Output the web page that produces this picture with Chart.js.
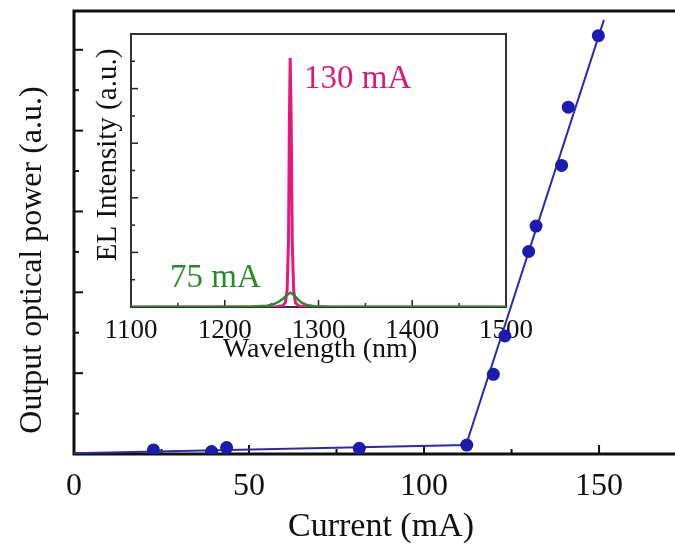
<!DOCTYPE html>
<html>
<head>
<meta charset="utf-8">
<title>L-I curve with EL inset</title>
<script src="https://cdn.jsdelivr.net/npm/chart.js@4.4.1/dist/chart.umd.min.js"></script>
<style>
  html, body { margin: 0; padding: 0; background: #fff; }
  #wrap { position: relative; width: 675px; height: 546px; }
  #wrap canvas { position: absolute; left: 0; top: 0; }
</style>
</head>
<body>
<div id="wrap">
  <canvas id="insetChart" width="675" height="546"></canvas>
  <canvas id="mainChart" width="675" height="546"></canvas>
</div>
<script>
// measured points: current (mA) vs output optical power (a.u.)
const currents = [22.7, 39.3, 43.6, 81.5, 112.2, 119.8, 123.1, 129.9, 132.0, 139.3, 141.2, 149.8];
const powers = [0.10, 0.06, 0.16, 0.14, 0.22, 1.97, 2.92, 5.01, 5.64, 7.14, 8.58, 10.35];

// linear fits below / above threshold
const fitCurrents = [0, 112, 151.4];
const fitPowers = [0.02, 0.22, 10.74];

// main axis ticks
const currentTicks = [0, 50, 100, 150];
const currentMinorTicks = [25, 75, 125];
const powerTicks = [2, 4, 6, 8, 10];
const powerMinorTicks = [1, 3, 5, 7, 9];

// inset: EL spectra
const wl130 = [1100, 1200, 1255, 1262, 1264.5, 1266.5, 1268, 1269, 1269.8, 1270.8, 1272, 1273.5, 1275.5, 1279, 1290, 1400, 1500];
const el130 = [0, 0, 0.01, 0.05, 0.15, 0.6, 2.4, 7.0, 9.12, 7.0, 2.4, 0.6, 0.15, 0.04, 0.01, 0, 0];
const wl75 = [1100, 1200, 1230, 1245, 1252, 1258, 1262, 1266, 1270, 1274, 1278, 1282, 1288, 1295, 1310, 1400, 1500];
const el75 = [0, 0.01, 0.02, 0.05, 0.1, 0.2, 0.3, 0.43, 0.52, 0.43, 0.28, 0.16, 0.07, 0.03, 0.01, 0, 0];

// inset axis ticks
const wavelengthTicks = [1100, 1200, 1300, 1400, 1500];
const wavelengthMinorTicks = [1150, 1250, 1350, 1450];
const elTicks = [2, 4, 6, 8];
const elMinorTicks = [1, 3, 5, 7, 9];

const serif = '"Liberation Serif", "Times New Roman", serif';
const dotBlue = '#1b1bb0';
const lineBlue = '#2a2aac';
const pink = '#e8177c';
const green = '#2a8a2a';

// frame + inward pointing ticks
const frameTicks = {
  id: 'frameTicks',
  beforeDatasetsDraw(chart, args, o) {
    const { ctx, chartArea: a, scales } = chart;
    ctx.save();
    ctx.strokeStyle = o.tickColor;
    ctx.lineWidth = o.tickWidth;
    const tick = (list, len, axis) => list.forEach(v => {
      ctx.beginPath();
      if (axis === 'x') {
        const px = scales.x.getPixelForValue(v);
        ctx.moveTo(px, a.bottom); ctx.lineTo(px, a.bottom - len);
      } else {
        const py = scales.y.getPixelForValue(v);
        ctx.moveTo(a.left, py); ctx.lineTo(a.left + len, py);
      }
      ctx.stroke();
    });
    tick(o.xMajor, o.majorLen, 'x');
    tick(o.xMinor, o.minorLen, 'x');
    tick(o.yMajor, o.majorLen, 'y');
    tick(o.yMinor, o.minorLen, 'y');

    ctx.strokeStyle = o.frameColor;
    ctx.lineWidth = o.frameWidth;
    ctx.lineCap = 'square';
    ctx.beginPath();
    ctx.moveTo(a.left, a.bottom);
    ctx.lineTo(a.left, a.top);
    ctx.lineTo(a.right, a.top);
    if (o.closed) ctx.lineTo(a.right, a.bottom);
    ctx.moveTo(a.left, a.bottom);
    ctx.lineTo(a.right, a.bottom);
    ctx.stroke();
    ctx.restore();
  }
};

// axis titles and curve labels
const textLabels = {
  id: 'textLabels',
  afterDraw(chart, args, o) {
    const ctx = chart.ctx;
    o.items.forEach(t => {
      ctx.save();
      ctx.translate(t.x, t.y);
      if (t.rot) ctx.rotate(t.rot);
      ctx.font = t.font;
      ctx.fillStyle = t.color || '#111';
      ctx.textAlign = t.align || 'center';
      ctx.textBaseline = 'alphabetic';
      ctx.fillText(t.text, 0, 0);
      ctx.restore();
    });
  }
};

// inset spectrum chart (underneath)
new Chart(document.getElementById('insetChart'), {
  type: 'line',
  data: {
    datasets: [
      {
        data: wl75.map((x, i) => ({ x: x, y: el75[i] })),
        borderColor: green, borderWidth: 2.5, pointRadius: 0, order: 0
      },
      {
        data: wl130.map((x, i) => ({ x: x, y: el130[i] })),
        borderColor: pink, borderWidth: 3, pointRadius: 0, order: 1
      }
    ]
  },
  options: {
    responsive: false,
    animation: false,
    events: [],
    layout: { autoPadding: false, padding: { left: 131, top: 34, right: 169, bottom: 0 } },
    plugins: {
      legend: { display: false },
      tooltip: { enabled: false },
      frameTicks: {
        xMajor: wavelengthTicks, xMinor: wavelengthMinorTicks,
        yMajor: elTicks, yMinor: elMinorTicks,
        majorLen: 7, minorLen: 4, tickWidth: 1.5, tickColor: '#222',
        frameColor: '#333', frameWidth: 2, closed: true
      },
      textLabels: {
        items: [
          { text: 'Wavelength (nm)', x: 320, y: 357, font: '28px ' + serif },
          { text: 'EL Intensity (a.u.)', x: 116, y: 155, rot: -Math.PI / 2, font: '29px ' + serif },
          { text: '130 mA', x: 304, y: 88, align: 'left', font: '33px ' + serif, color: '#d81a74' },
          { text: '75 mA', x: 170, y: 287, align: 'left', font: '33px ' + serif, color: green }
        ]
      }
    },
    scales: {
      x: {
        type: 'linear', min: 1100, max: 1500,
        grid: { display: false }, border: { display: false },
        afterBuildTicks: s => { s.ticks = wavelengthTicks.map(v => ({ value: v })); },
        ticks: {
          font: { family: serif, size: 27 }, color: '#111', padding: 0, maxRotation: 0,
          callback: v => String(v)
        },
        afterFit: s => { s.height = 239; }
      },
      y: {
        type: 'linear', min: 0, max: 10,
        grid: { display: false }, border: { display: false },
        ticks: { display: false },
        afterFit: s => { s.width = 0; }
      }
    }
  },
  plugins: [frameTicks, textLabels]
});

// main L-I chart (on top)
new Chart(document.getElementById('mainChart'), {
  type: 'scatter',
  data: {
    datasets: [
      {
        data: currents.map((x, i) => ({ x: x, y: powers[i] })),
        pointRadius: 6.5, pointBackgroundColor: dotBlue, pointBorderColor: dotBlue,
        pointBorderWidth: 0, showLine: false, order: 0
      },
      {
        type: 'line',
        data: fitCurrents.map((x, i) => ({ x: x, y: fitPowers[i] })),
        borderColor: lineBlue, borderWidth: 2, pointRadius: 0, order: 1
      }
    ]
  },
  options: {
    responsive: false,
    animation: false,
    events: [],
    layout: { autoPadding: false, padding: { left: 0, top: 11, right: 0, bottom: 0 } },
    plugins: {
      legend: { display: false },
      tooltip: { enabled: false },
      frameTicks: {
        xMajor: currentTicks, xMinor: currentMinorTicks,
        yMajor: powerTicks, yMinor: powerMinorTicks,
        majorLen: 9, minorLen: 5, tickWidth: 2, tickColor: '#111',
        frameColor: '#111', frameWidth: 3, closed: false
      },
      textLabels: {
        items: [
          { text: 'Current (mA)', x: 381, y: 536, font: '34px ' + serif },
          { text: 'Output optical power (a.u.)', x: 41, y: 260, rot: -Math.PI / 2, font: '32px ' + serif }
        ]
      }
    },
    scales: {
      x: {
        type: 'linear', min: 0, max: 171.7,
        grid: { display: false }, border: { display: false },
        afterBuildTicks: s => { s.ticks = currentTicks.map(v => ({ value: v })); },
        ticks: {
          font: { family: serif, size: 32 }, color: '#111', padding: 5, maxRotation: 0,
          callback: v => String(v)
        },
        afterFit: s => { s.height = 92; }
      },
      y: {
        type: 'linear', min: 0, max: 10.96,
        grid: { display: false }, border: { display: false },
        ticks: { display: false },
        afterFit: s => { s.width = 74; }
      }
    }
  },
  plugins: [frameTicks, textLabels]
});
</script>
</body>
</html>
